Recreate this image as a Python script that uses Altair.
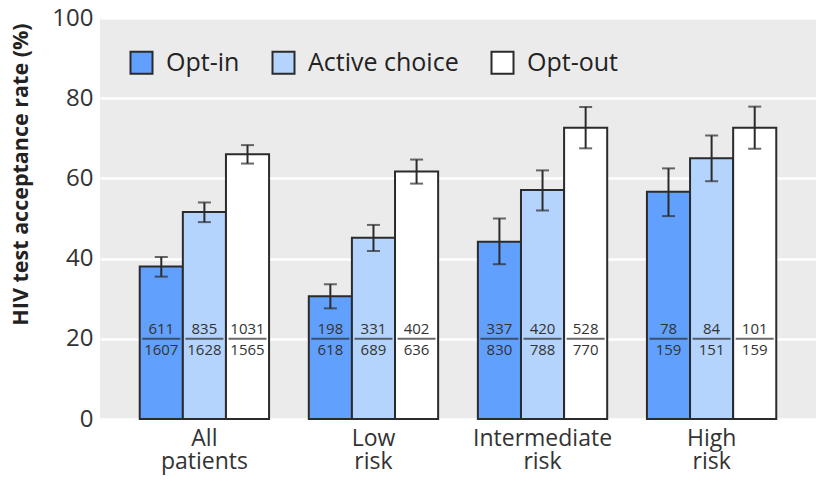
import altair as alt
import pandas as pd

categories = ["All patients", "Low risk", "Intermediate risk", "High risk"]
methods = ["Opt-in", "Active choice", "Opt-out"]
colors = ["#62a0fd", "#b4d4fd", "#ffffff"]

rates = [[38.0, 51.6, 66.0], [30.6, 45.2, 61.7], [44.2, 57.1, 72.6], [56.7, 65.0, 72.6]]
lower = [[35.5, 49.1, 63.7], [27.6, 41.9, 58.7], [38.6, 52.0, 67.5], [50.6, 59.3, 67.4]]
upper = [[40.4, 54.0, 68.3], [33.6, 48.4, 64.7], [50.0, 62.0, 77.8], [62.5, 70.7, 77.9]]
numerators = [[611, 835, 1031], [198, 331, 402], [337, 420, 528], [78, 84, 101]]
denominators = [[1607, 1628, 1565], [618, 689, 636], [830, 788, 770], [159, 151, 159]]
fraction_level = 20

rows = []
for i, c in enumerate(categories):
    for j, m in enumerate(methods):
        rows.append(dict(cat=c, method=m, rate=rates[i][j], lo=lower[i][j], hi=upper[i][j],
                         num=str(numerators[i][j]), den=str(denominators[i][j]),
                         mid=fraction_level))
df = pd.DataFrame(rows)

FONT = "Open Sans"
DARK = "#2b2b2b"

x = alt.X("cat:N", sort=categories, title=None,
          scale=alt.Scale(paddingInner=0.235, paddingOuter=0.235),
          axis=alt.Axis(labelExpr="split(datum.label, ' ')", labelFontSize=23,
                        labelLineHeight=23, labelPadding=8, labelColor="#333333",
                        labelFont=FONT, domain=False, ticks=False, labelAngle=0,
                        labelBaseline="top"))
xo = alt.XOffset("method:N", sort=methods, scale=alt.Scale(paddingInner=0, paddingOuter=0))
yscale = alt.Scale(domain=[0, 100], nice=False)

base = alt.Chart(df)

bars = base.mark_bar(stroke=DARK, strokeWidth=2).encode(
    x=x, xOffset=xo,
    y=alt.Y("rate:Q", scale=yscale, title="HIV test acceptance rate (%)",
            axis=alt.Axis(values=[0, 20, 40, 60, 80, 100], labelFontSize=24,
                          labelColor="#333333", labelFont=FONT, labelPadding=7,
                          domain=False, ticks=False, grid=True, gridColor="white",
                          gridWidth=2.5, titleFont=FONT, titleFontSize=21.5,
                          titleFontWeight="bold", titleColor="#222222",
                          titleX=-73, titleY=156, titleBaseline="alphabetic",
                          titleAlign="center", titleAngle=270)),
    fill=alt.Fill("method:N", sort=methods,
                  scale=alt.Scale(domain=methods, range=colors),
                  legend=alt.Legend(title=None, orient="none", legendX=29, legendY=32,
                                    direction="horizontal", symbolType="square",
                                    symbolSize=484, symbolStrokeColor=DARK,
                                    symbolStrokeWidth=2, labelFontSize=25,
                                    labelFont=FONT, labelColor="#222222",
                                    labelOffset=12, columnPadding=28)),
)

err = base.mark_rule(color=DARK, strokeWidth=2).encode(
    x=x, xOffset=xo, y=alt.Y("lo:Q", scale=yscale), y2="hi:Q")
cap_lo = base.mark_tick(color=DARK, size=13, thickness=2).encode(
    x=x, xOffset=xo, y=alt.Y("lo:Q", scale=yscale))
cap_hi = base.mark_tick(color=DARK, size=13, thickness=2).encode(
    x=x, xOffset=xo, y=alt.Y("hi:Q", scale=yscale))
frac_line = base.mark_tick(color=DARK, size=38, thickness=2).encode(
    x=x, xOffset=xo, y=alt.Y("mid:Q", scale=yscale))
num_text = base.mark_text(dy=-10, fontSize=15, font=FONT, color="#333333").encode(
    x=x, xOffset=xo, y=alt.Y("mid:Q", scale=yscale), text="num:N")
den_text = base.mark_text(dy=11, fontSize=15, font=FONT, color="#333333").encode(
    x=x, xOffset=xo, y=alt.Y("mid:Q", scale=yscale), text="den:N")

chart = alt.layer(bars, err, cap_lo, cap_hi, frac_line, num_text, den_text).properties(
    width=716, height=401,
    autosize=alt.AutoSizeParams(type="none"),
    padding={"left": 92, "top": 10, "right": 0, "bottom": 57},
    background="white",
).configure_view(fill="#ebebeb", stroke=None)

chart.save("out.html", embed_options={"renderer": "svg", "actions": False})
